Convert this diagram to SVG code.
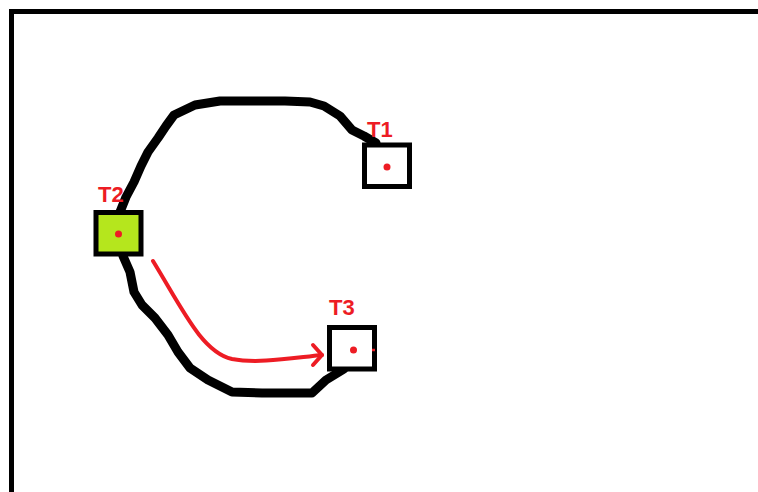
<svg xmlns="http://www.w3.org/2000/svg" width="758" height="492" viewBox="0 0 758 492">
<style>
.box{stroke:#000;stroke-width:5}
.lbl{font-family:"Liberation Sans",Arial,sans-serif;font-weight:bold;font-size:22px;fill:#ed1c24}
.dot{fill:#ed1c24}
.wire{fill:none;stroke:#000;stroke-width:9;stroke-linecap:round;stroke-linejoin:round}
.flow{fill:none;stroke:#ed1c24;stroke-width:4;stroke-linecap:round;stroke-linejoin:round}
</style>
<rect x="0" y="0" width="758" height="492" fill="#fff"/>
<path d="M11.5 492 V11.5 H758" fill="none" stroke="#000" stroke-width="5"/>
<g id="connectors">
<path class="wire" d="M376 143 L364 136 L352 130 L340 116 L324 106 L310 102 L285 101 L220 101 L195 105 L174 115 L166 126 L158 138 L148 152 L141 166 L134 182 L126 197 L120 212"/>
<path class="wire" d="M123 256 L130 272 L134 292 L142 305 L155 318 L168 335 L178 352 L190 368 L208 380 L232 392 L262 393 L312 393 L326 380 L344 369"/>
<path class="flow" d="M153 261 C183 310 202 352 232 359 C258 364 292 358 322 355"/>
<path class="flow" d="M313 345 L322 355 L313 365"/>
</g>
<g id="T1">
<rect class="box" x="364.5" y="145" width="45" height="41.5" fill="#fff"/>
<circle class="dot" cx="387" cy="167" r="3.5"/>
<text class="lbl" x="367" y="137">T1</text>
</g>
<g id="T2">
<rect class="box" x="96" y="212.5" width="45" height="41.5" fill="#b5e61d"/>
<circle class="dot" cx="118.5" cy="234" r="3.5"/>
<text class="lbl" x="98" y="202">T2</text>
</g>
<g id="T3">
<rect class="box" x="329.5" y="327.5" width="45" height="41.5" fill="#fff"/>
<circle class="dot" cx="353.5" cy="350" r="3.5"/>
<line x1="372" y1="350" x2="375" y2="350" stroke="#ed1c24" stroke-width="2.5"/>
<text class="lbl" x="329" y="315">T3</text>
</g>
</svg>
